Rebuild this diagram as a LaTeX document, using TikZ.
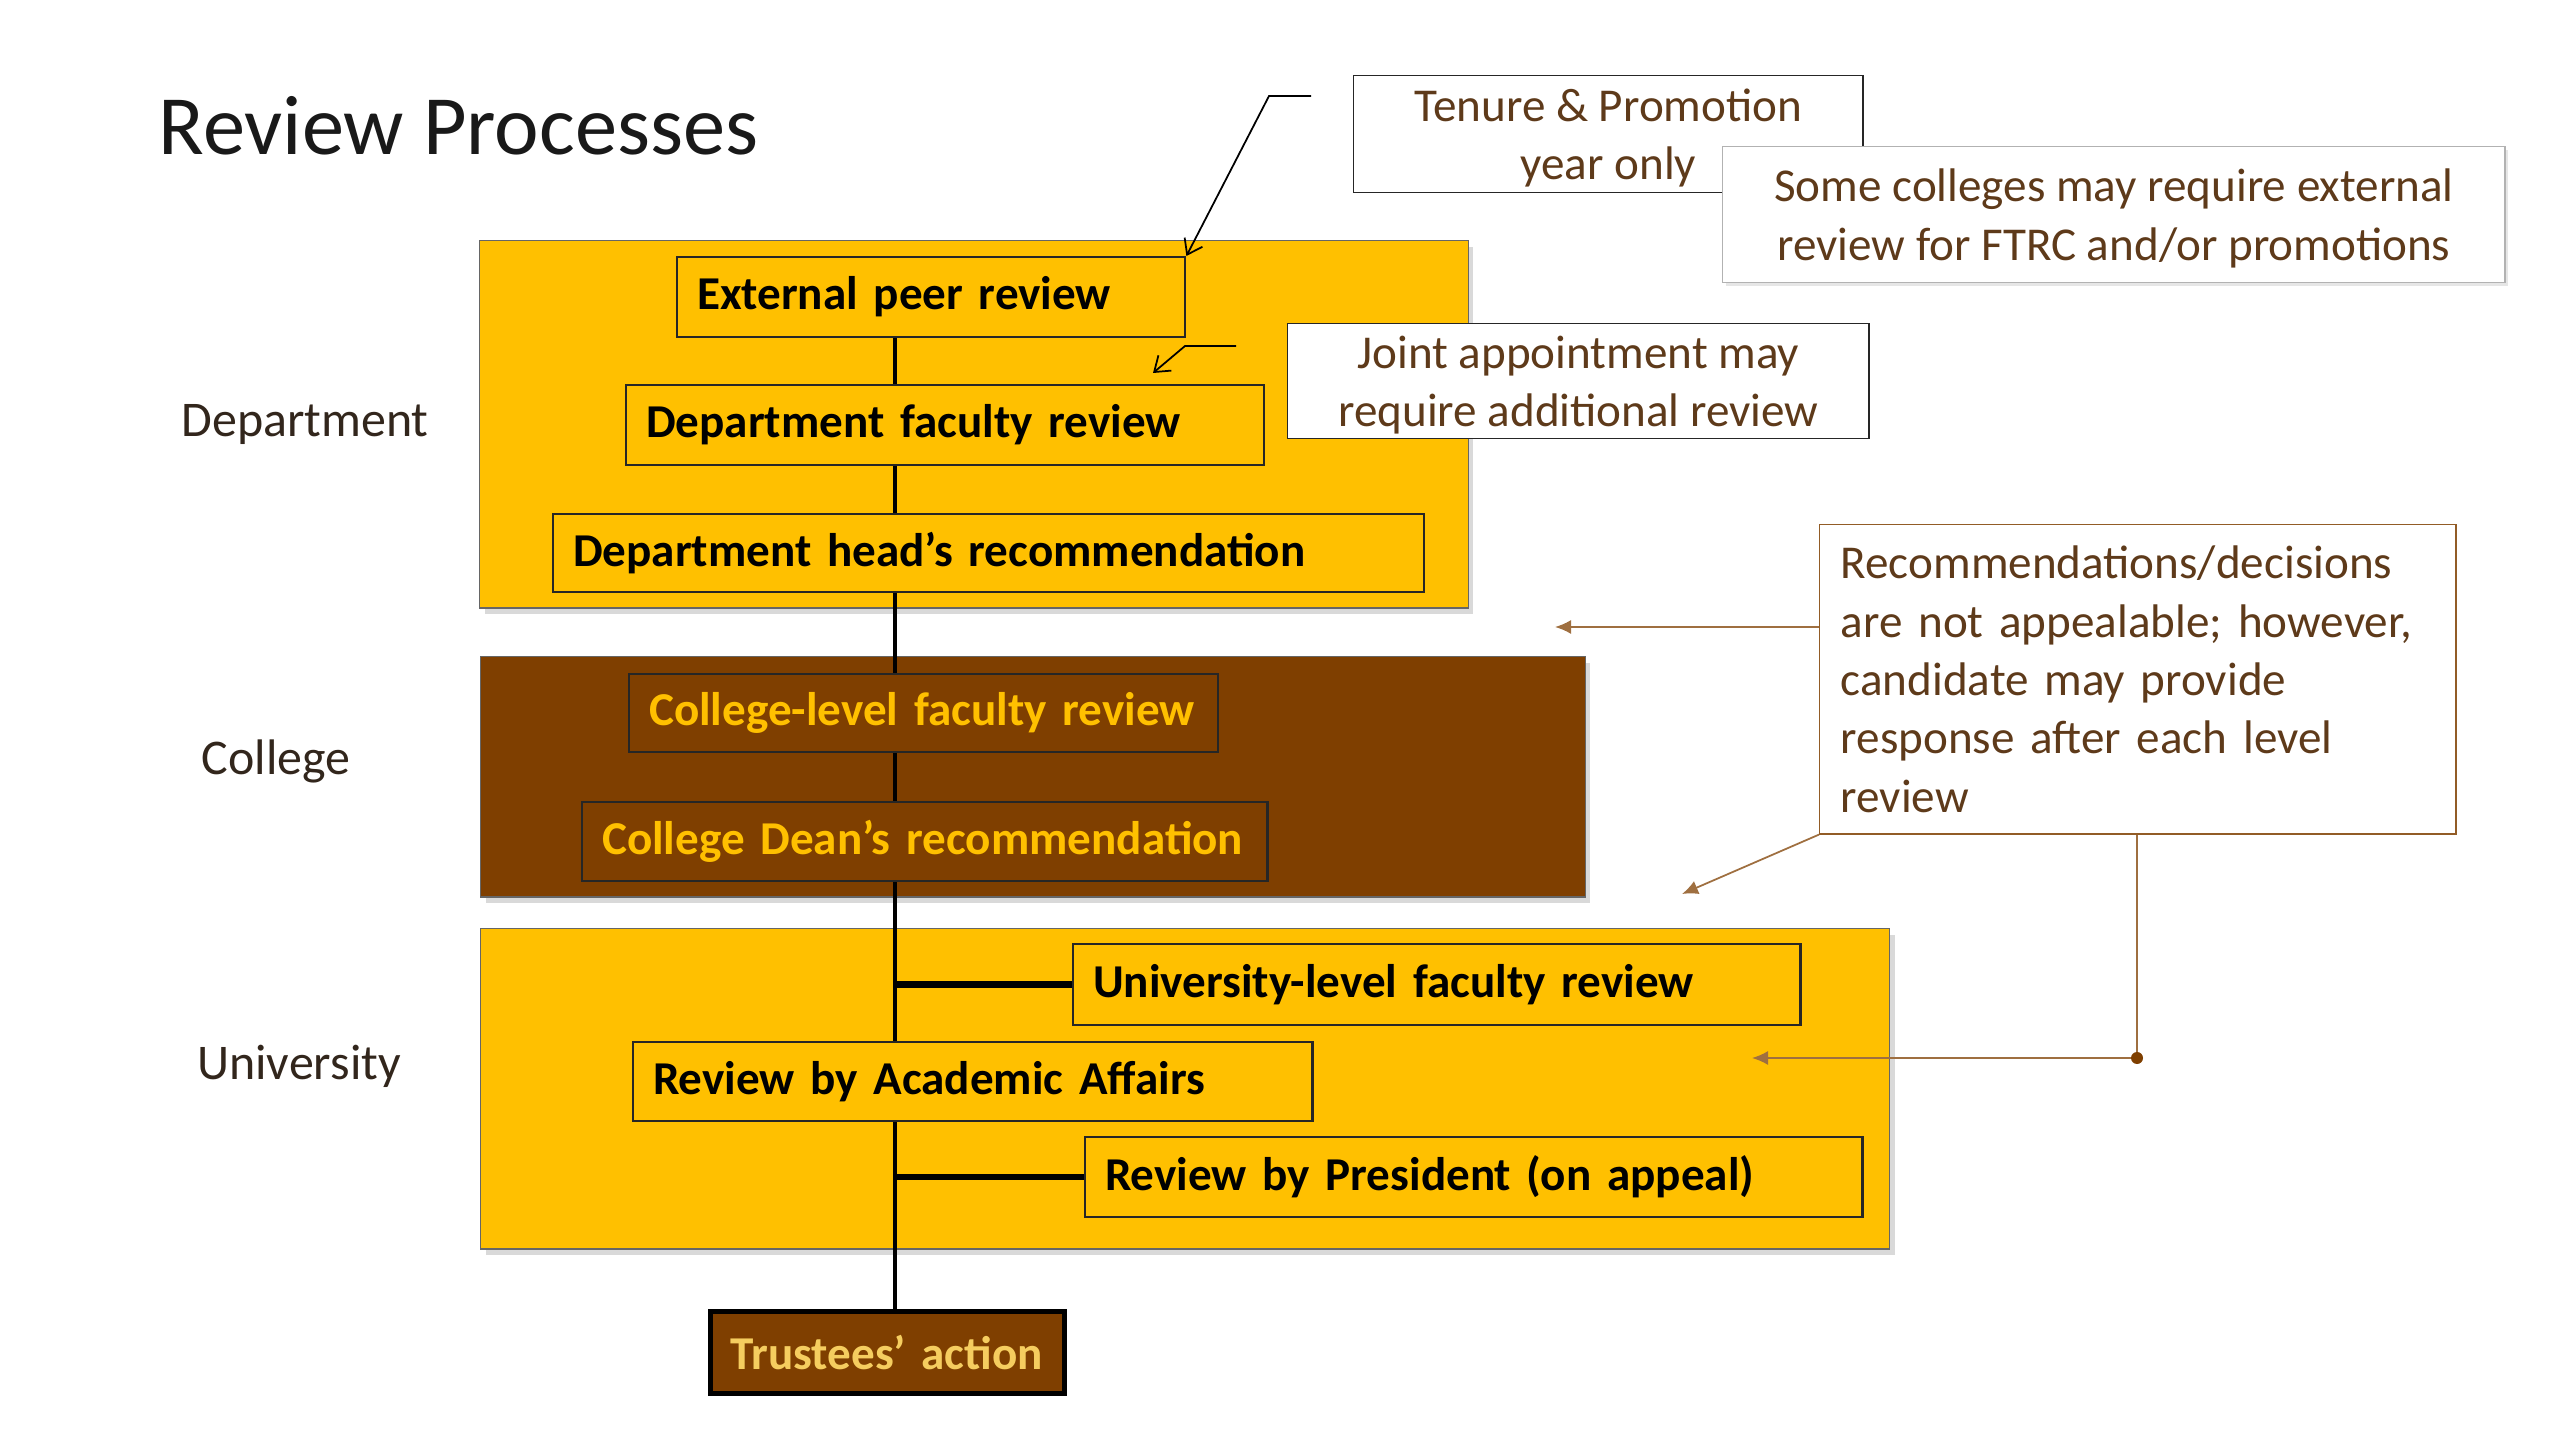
\documentclass[tikz,border=0pt]{standalone}
\usepackage{fontspec}
\setmainfont{Carlito}
\usetikzlibrary{positioning, arrows.meta, calc, shadows}

\definecolor{gold}{RGB}{255,192,0}
\definecolor{umber}{RGB}{127,63,0}
\definecolor{notebrown}{RGB}{94,58,26}
\definecolor{palegold}{RGB}{245,205,95}
\definecolor{labelink}{RGB}{50,38,28}

\tikzset{
  levelbox/.style={draw=black!60, thin, anchor=north west, inner sep=0pt,
    drop shadow={shadow xshift=0.05cm, shadow yshift=-0.06cm, opacity=0.3}},
  stagebox/.style={draw=black!85, line width=0.6pt, anchor=north west, inner xsep=0.2cm,
    inner ysep=0pt, align=left, font=\fontsize{13.4}{16.6}\selectfont\bfseries},
  notebox/.style={anchor=north west, fill=white, align=center, inner sep=0pt,
    text=notebrown, font=\fontsize{13.4}{16.6}\selectfont},
  levellabel/.style={text=labelink, font=\fontsize{14.2}{17}\selectfont},
  spineline/.style={line width=1.1pt},
  branchline/.style={line width=1.8pt},
  callout/.style={line width=0.5pt, -{Straight Barb[length=0.14cm, width=0.2cm]}},
  feedback/.style={draw=umber!75, line width=0.5pt, -{Latex[length=0.16cm, width=0.14cm]}}
}

\begin{document}
\begin{tikzpicture}[x=0.01cm, y=-0.01cm]
    \useasboundingbox (0,0) rectangle (2560,1440);

    \node[anchor=base west, inner sep=0pt, text=black!90, font=\fontsize{24}{28}\selectfont] (title) at (158,155) {Review Processes};

    % level containers
    \node[levelbox, fill=gold, minimum width=9.88cm, minimum height=3.67cm] (dept) at (479,240) {};
    \node[levelbox, fill=umber, minimum width=11.04cm, minimum height=2.40cm] (coll) at (480,656) {};
    \node[levelbox, fill=gold, minimum width=14.08cm, minimum height=3.20cm] (univ) at (480,928) {};

    \node[levellabel] (deptlabel) at (305,425) {Department};
    \node[levellabel] (colllabel) at (276,761) {College};
    \node[levellabel] (univlabel) at (299,1066) {University};

    % review stages
    \node[stagebox, fill=gold, text width=4.68cm, minimum height=0.80cm] (ext) at (676,256) {External peer review};
    \node[stagebox, fill=gold, text width=5.98cm, minimum height=0.80cm] (depfac) at (625,384) {Department faculty review};
    \node[stagebox, fill=gold, text width=8.30cm, minimum height=0.78cm] (dephead) at (552,513) {Department head’s recommendation};
    \node[stagebox, fill=umber, text=gold, text width=5.49cm, minimum height=0.78cm] (colfac) at (628,673) {College-level faculty review};
    \node[stagebox, fill=umber, text=gold, text width=6.45cm, minimum height=0.79cm] (dean) at (581,801) {College Dean’s recommendation};
    \node[stagebox, fill=gold, text width=6.87cm, minimum height=0.81cm] (univfac) at (1072,943) {University-level faculty review};
    \node[stagebox, fill=gold, text width=6.39cm, minimum height=0.79cm] (acad) at (632,1041) {Review by Academic Affairs};
    \node[stagebox, fill=gold, text width=7.37cm, minimum height=0.80cm] (pres) at (1084,1136) {Review by President (on appeal)};
    \node[stagebox, fill=umber, text=palegold, draw=black, line width=1.5pt, text width=3.14cm, minimum height=0.82cm] (trustees) at (708,1309) {Trustees’ action};

    % the spine
    \coordinate (spine) at (895,0);
    \draw[spineline] (ext.south -| spine) -- (depfac.north -| spine);
    \draw[spineline] (depfac.south -| spine) -- (dephead.north -| spine);
    \draw[spineline] (dephead.south -| spine) -- (colfac.north -| spine);
    \draw[spineline] (colfac.south -| spine) -- (dean.north -| spine);
    \draw[spineline] (dean.south -| spine) -- (acad.north -| spine);
    \draw[spineline] (acad.south -| spine) -- (trustees.north -| spine);
    \draw[branchline] (univfac.west) -- (univfac.west -| spine);
    \draw[branchline] (pres.west) -- (pres.west -| spine);

    % side notes
    \node[notebox, draw=black!85, text depth=0pt, minimum width=5.09cm, minimum height=1.17cm] (tenure) at (1353,75) {Tenure \& Promotion\\year only};
    \node[notebox, draw=black!30, text depth=0pt, minimum width=7.82cm, minimum height=1.36cm,
      drop shadow={shadow xshift=0.03cm, shadow yshift=-0.03cm, opacity=0.2}] (colleges) at (1722,146) {Some colleges may require external\\review for FTRC and/or promotions};
    \node[notebox, draw=black!85, text depth=0pt, minimum width=5.81cm, minimum height=1.15cm] (joint) at (1287,323) {Joint appointment may\\require additional review};
    \node[notebox, draw=umber!85, align=left, inner xsep=0.21cm, text width=5.94cm, minimum height=3.09cm] (rec) at (1819,524) {Recommendations/decisions\\are not appealable; however,\\candidate may provide\\response after each level\\review};

    % callouts
    \coordinate (tenfoot) at (1311,96);
    \draw[callout] (tenfoot) -- ++(-42,0) -- (ext.north east);
    \coordinate (jointfoot) at (1236,346);
    \coordinate (jointtip) at (1153,373);
    \draw[callout] (jointfoot) -- ++(-51,0) -- (jointtip);

    % feedback arrows
    \coordinate (tipA) at (1555,627);
    \coordinate (tipB) at (1682,894);
    \coordinate (tipC) at (1752,1058);
    \coordinate (knot) at (2137,1058);
    \draw[feedback] (rec.west |- tipA) -- (tipA);
    \draw[feedback] (rec.south west) -- (tipB);
    \draw[feedback] (rec.south -| knot) -- (knot) -- (tipC);
    \fill[umber] (knot) circle (0.06cm);
\end{tikzpicture}
\end{document}
